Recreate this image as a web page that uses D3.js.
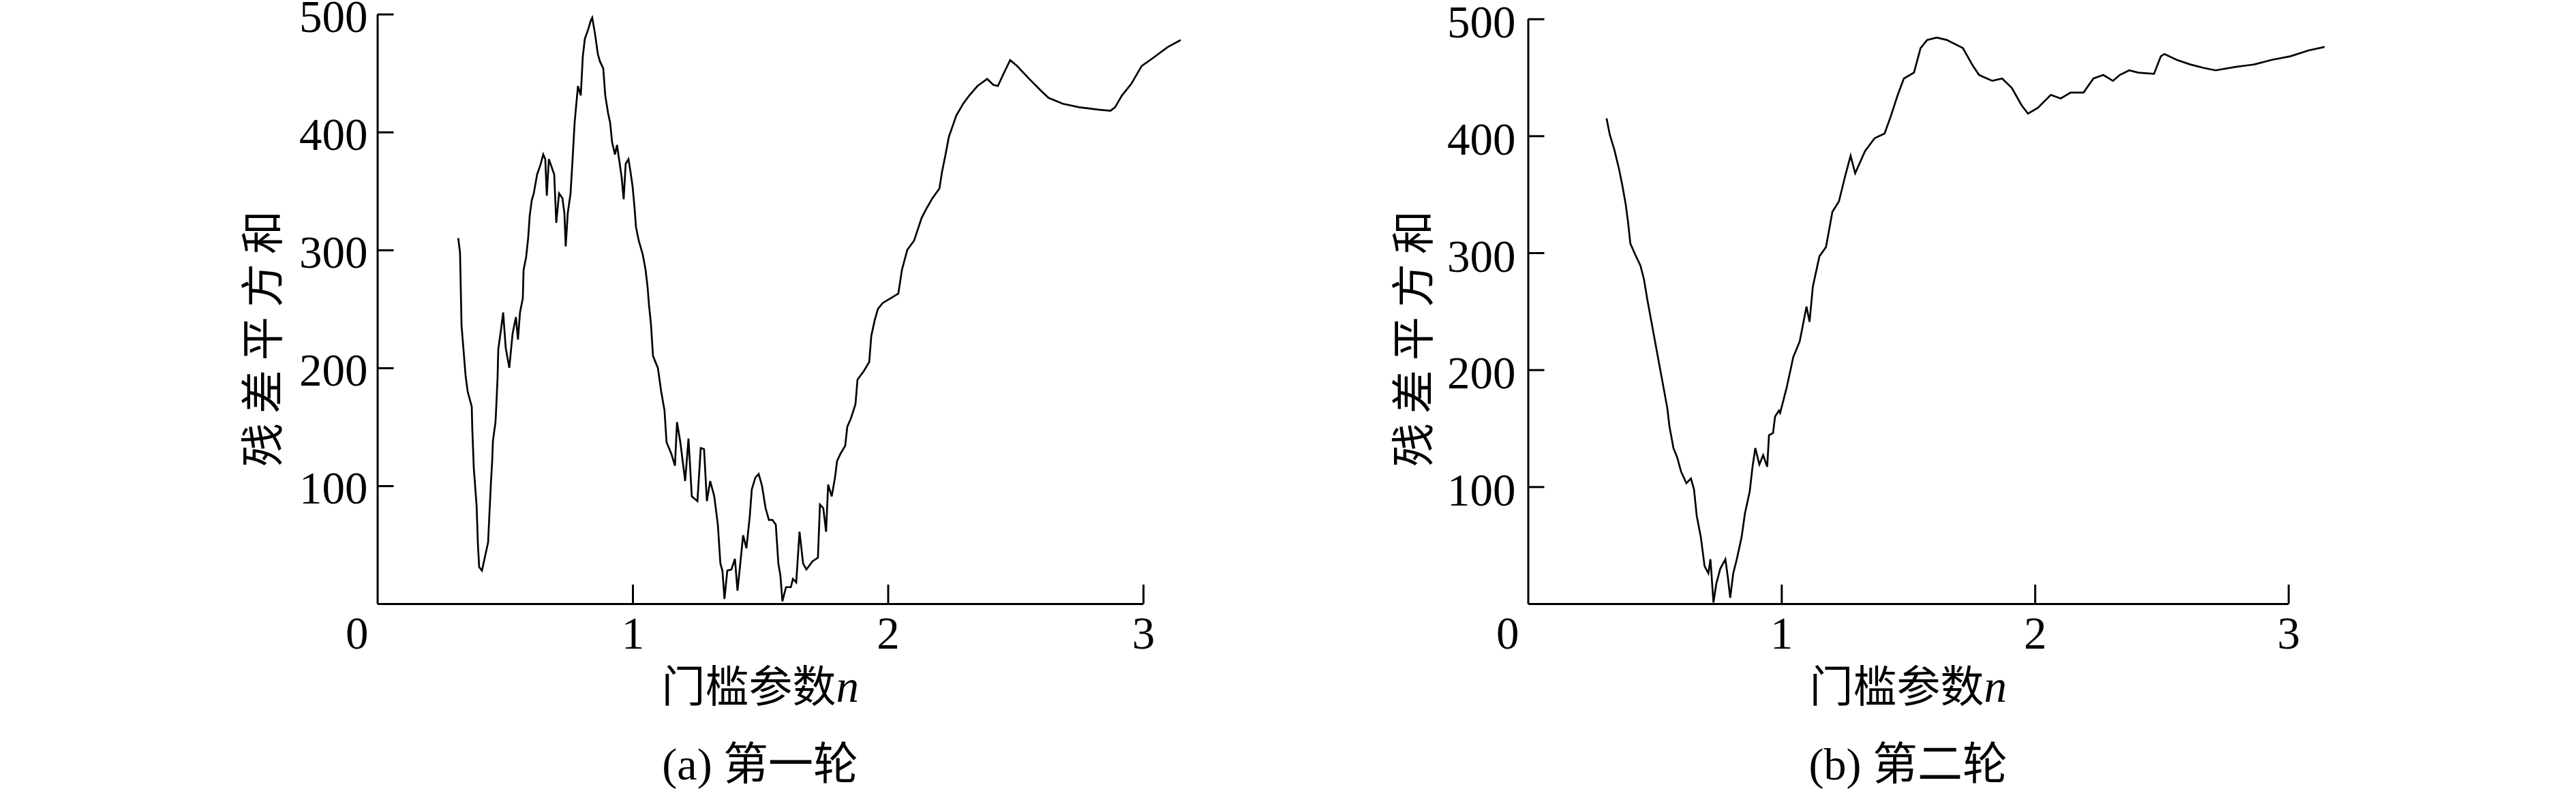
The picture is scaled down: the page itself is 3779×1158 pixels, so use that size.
<!DOCTYPE html>
<html>
<head>
<meta charset="utf-8">
<script src="https://cdn.jsdelivr.net/npm/d3@7"></script>
<style>
  html, body { margin: 0; padding: 0; background: #fff; }
  svg { display: block; }
</style>
</head>
<body>
<svg id="chart" width="3779" height="1158"></svg>
<script>
// ---------------- DATA ----------------
const xTicks = [1, 2, 3];
const yTicks = [100, 200, 300, 400, 500];
const xLabel = "门槛参数";
const xLabelVar = "n";
const yLabel = "残差平方和";
const titles = ["(a) 第一轮", "(b) 第二轮"];

// Panel (a): threshold parameter n
const nA = [0.317,0.324,0.330,0.346,0.354,0.370,0.372,0.378,0.389,0.394,0.399,0.410,0.423,0.434,0.439,0.445,0.450,0.453,0.463,0.466,0.471,0.474,0.485,0.493,0.503,0.517,0.530,0.543,0.551,0.559,0.570,0.573,0.583,0.591,0.597,0.605,0.613,0.626,0.639,0.650,0.658,0.664,0.672,0.685,0.693,0.701,0.712,0.725,0.733,0.738,0.746,0.757,0.765,0.773,0.786,0.797,0.805,0.813,0.826,0.837,0.842,0.853,0.864,0.872,0.885,0.893,0.904,0.912,0.920,0.931,0.939,0.947,0.957,0.965,0.973,0.984,0.992,1.000,1.008,1.013,1.024,1.040,1.051,1.059,1.064,1.072,1.080,1.099,1.112,1.125,1.133,1.152,1.166,1.174,1.187,1.206,1.219,1.232,1.254,1.267,1.280,1.291,1.304,1.320,1.334,1.344,1.352,1.360,1.371,1.387,1.401,1.411,1.419,1.433,1.446,1.459,1.467,1.481,1.494,1.507,1.521,1.534,1.548,1.561,1.571,1.579,1.587,1.601,1.620,1.628,1.641,1.654,1.668,1.681,1.705,1.726,1.734,1.747,1.758,1.766,1.780,1.793,1.801,1.814,1.833,1.841,1.855,1.873,1.881,1.905,1.927,1.935,1.948,1.961,1.980,2.041,2.055,2.076,2.103,2.132,2.151,2.175,2.202,2.212,2.226,2.239,2.252,2.268,2.295,2.319,2.351,2.389,2.413,2.431,2.450,2.479,2.506,2.554,2.600,2.629,2.685,2.749,2.824,2.872,2.890,2.917,2.954,2.994,3.040,3.096,3.147];
// Panel (a): residual sum of squares
const rssA = [310,298,236,193,180,167,149,115,83,51,31,28,41,52,75,102,121,138,154,167,191,216,233,247,217,200,229,243,224,247,259,283,294,310,329,342,348,364,372,381,377,346,377,369,364,323,348,344,331,303,331,348,377,408,439,431,464,479,487,495,497,483,466,460,454,431,416,408,391,381,389,377,362,343,373,377,366,354,335,320,308,296,283,268,254,237,210,200,180,164,137,127,117,154,137,104,140,91,87,132,131,87,104,91,67,34,28,4,28,29,38,11,28,58,47,74,97,107,110,100,81,71,71,67,34,24,2,14,14,21,18,61,34,29,36,39,84,81,61,101,91,107,121,127,134,150,157,169,190,197,205,227,240,250,255,263,283,300,308,327,335,344,352,366,381,396,404,414,424,431,439,445,440,439,448,461,456,445,435,429,424,421,419,418,421,431,441,456,463,472,478];

// Panel (b): threshold parameter n
const nB = [0.310,0.323,0.341,0.359,0.373,0.386,0.395,0.404,0.422,0.444,0.458,0.471,0.550,0.558,0.574,0.589,0.604,0.625,0.643,0.655,0.666,0.682,0.697,0.712,0.720,0.732,0.743,0.759,0.779,0.789,0.798,0.810,0.824,0.843,0.856,0.875,0.886,0.897,0.913,0.928,0.944,0.951,0.967,0.975,0.990,0.995,1.021,1.047,1.072,1.099,1.111,1.124,1.150,1.176,1.201,1.227,1.252,1.273,1.291,1.330,1.368,1.407,1.432,1.459,1.483,1.523,1.549,1.575,1.613,1.652,1.716,1.755,1.780,1.832,1.871,1.909,1.948,1.973,2.012,2.063,2.102,2.141,2.192,2.231,2.270,2.308,2.335,2.372,2.408,2.470,2.497,2.511,2.559,2.613,2.667,2.713,2.793,2.865,2.936,3.008,3.080,3.143];
// Panel (b): residual sum of squares
const rssB = [415,401,388,372,357,341,326,308,299,289,277,260,167,152,133,125,113,103,107,98,75,57,32,26,38,1,17,30,38,22,5,26,38,57,77,96,117,133,119,127,117,144,146,160,165,163,185,211,224,254,241,271,297,305,335,344,366,383,368,387,398,402,417,435,449,454,475,482,484,482,475,460,452,447,449,441,426,419,424,435,432,437,437,449,452,447,452,456,454,453,468,470,465,461,458,456,459,461,465,468,473,476];

// ---------------- LAYOUT ----------------
const panels = [
  { n: nA, rss: rssA, title: titles[0], x0: 553.5, x3: 1677, yTop: 20.7, yBase: 886, labPad: 14, labDy: 26 },
  { n: nB, rss: rssB, title: titles[1], x0: 2241.5, x3: 3357, yTop: 27.7, yBase: 886, labPad: 18, labDy: 27 }
];

const svg = d3.select("#chart");
const numFont = "'Liberation Serif', 'Times New Roman', serif";
const cjkFont = "'Liberation Serif', 'Noto Sans CJK SC', serif";

panels.forEach(p => {
  const x = d3.scaleLinear().domain([0, 3]).range([p.x0, p.x3]);
  const y = d3.scaleLinear().domain([0, 500]).range([p.yBase, p.yTop]);
  const g = svg.append("g");

  // y axis
  const ya = g.append("g")
    .attr("transform", `translate(${p.x0},0)`)
    .call(d3.axisLeft(y).tickValues(yTicks).tickFormat(d3.format("d"))
      .tickSizeInner(-24).tickSizeOuter(0).tickPadding(p.labPad));
  // x axis
  const xa = g.append("g")
    .attr("transform", `translate(0,${p.yBase})`)
    .call(d3.axisBottom(x).tickValues(xTicks).tickFormat(d3.format("d"))
      .tickSizeInner(-28).tickSizeOuter(0).tickPadding(0));

  [ya, xa].forEach(a => {
    a.select(".domain").attr("stroke", "#000").attr("stroke-width", 3);
    a.selectAll(".tick line").attr("stroke", "#000").attr("stroke-width", 3);
    a.selectAll(".tick text").attr("fill", "#000")
      .style("font-family", numFont).style("font-size", "67px");
  });
  ya.selectAll(".tick text").attr("dy", 0).attr("y", p.labDy);
  xa.selectAll(".tick text").attr("dy", 0).attr("y", 66);

  // origin label
  g.append("text")
    .attr("x", p.x0 - 13).attr("y", p.yBase + 66)
    .attr("text-anchor", "end")
    .style("font-family", numFont).style("font-size", "67px")
    .text("0");

  // data line
  const line = d3.line().x((d, i) => x(p.n[i])).y(d => y(d));
  g.append("path")
    .datum(p.rss)
    .attr("fill", "none")
    .attr("stroke", "#000")
    .attr("stroke-width", 2.7)
    .attr("stroke-linejoin", "miter")
    .attr("d", line);

  // x label
  const cx = (p.x0 + p.x3) / 2;
  const xl = g.append("text")
    .attr("x", cx).attr("y", 1030)
    .attr("text-anchor", "middle")
    .style("font-family", cjkFont).style("font-size", "64px");
  xl.append("tspan").text(xLabel);
  xl.append("tspan").style("font-style", "italic").style("font-family", numFont).style("font-size", "67px").text(xLabelVar);

  // y label
  g.append("text")
    .attr("transform", `translate(${p.x0 - 146},490) rotate(-90)`)
    .attr("text-anchor", "middle")
    .style("font-family", cjkFont).style("font-size", "64px")
    .style("letter-spacing", "14px")
    .text(yLabel);

  // title
  g.append("text")
    .attr("x", cx).attr("y", 1144)
    .attr("text-anchor", "middle")
    .style("font-family", cjkFont).style("font-size", "66px")
    .text(p.title);
});
</script>
</body>
</html>
